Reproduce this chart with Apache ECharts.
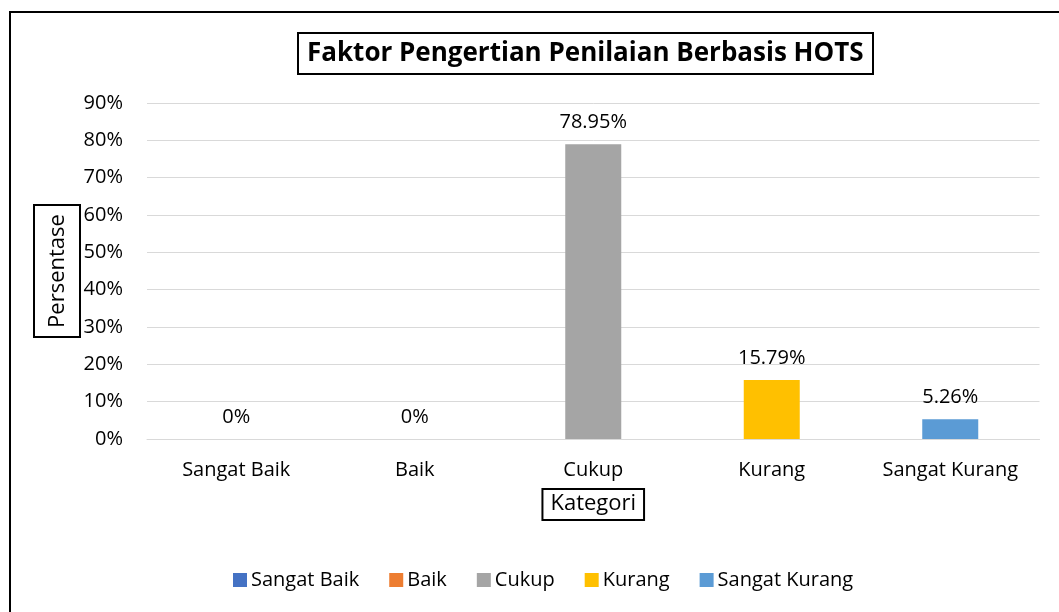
<!DOCTYPE html>
<html>
<head>
<meta charset="utf-8">
<script src="https://cdn.jsdelivr.net/npm/echarts@6/dist/echarts.min.js"></script>
<style>html,body{margin:0;padding:0;background:#fff}#c{width:1059px;height:612px}</style>
</head>
<body>
<div id="c"></div>
<script>
const categories = ['Sangat Baik', 'Baik', 'Cukup', 'Kurang', 'Sangat Kurang'];
const values = [0, 0, 78.95, 15.79, 5.26];
const colors = ['#4472C4', '#ED7D31', '#A5A5A5', '#FFC000', '#5B9BD5'];
const yTicks = { min: 0, max: 90, interval: 10 };
const titleText = 'Faktor Pengertian Penilaian Berbasis HOTS';
const yName = 'Persentase';
const xName = 'Kategori';

const FONT = 'Open Sans';
const FS = 20;
const chart = echarts.init(document.getElementById('c'));
const series = categories.map((name, i) => ({
  name: name,
  type: 'bar',
  stack: 'all',
  barWidth: 56,
  itemStyle: { color: colors[i] },
  data: categories.map((c, j) => j === i ? values[i] : null),
  label: {
    show: true, position: 'top', distance: 12,
    color: '#000', fontFamily: FONT, fontSize: FS,
    formatter: p => p.value + '%'
  }
}));
chart.setOption({
  animation: false,
  graphic: [{
    type: 'rect', shape: { x: 10, y: 12, width: 1200, height: 800 },
    style: { fill: 'none', stroke: '#000', lineWidth: 2 }, silent: true
  }],
  title: {
    text: titleText, left: 298, top: 33,
    padding: [6, 10, 6, 9],
    borderColor: '#000', borderWidth: 2,
    textStyle: { fontFamily: FONT, fontSize: 26, fontWeight: 'bold', color: '#000', lineHeight: 29 }
  },
  legend: {
    data: categories, top: 565, left: 228,
    itemWidth: 14, itemHeight: 14, itemGap: 30,
    icon: 'rect',
    textStyle: { fontFamily: FONT, fontSize: FS, color: '#000', padding: [0, 0, 0, -1] }
  },
  grid: { left: 147, right: 19.5, top: 103, bottom: 173, containLabel: false },
  xAxis: {
    type: 'category', data: categories,
    name: xName, nameLocation: 'middle', nameGap: 50, nameMoveOverlap: false,
    nameTextStyle: {
      fontFamily: FONT, fontSize: 22, color: '#000',
      borderColor: '#000', borderWidth: 2, padding: [4, 8, 5, 8]
    },
    axisLine: { lineStyle: { color: '#D9D9D9' } },
    axisTick: { show: false },
    axisLabel: { fontFamily: FONT, fontSize: FS, color: '#000', margin: 21 }
  },
  yAxis: {
    type: 'value', min: yTicks.min, max: yTicks.max, interval: yTicks.interval,
    name: yName, nameLocation: 'middle', nameRotate: 90, nameGap: 67, nameMoveOverlap: false,
    nameTextStyle: {
      fontFamily: FONT, fontSize: 22, color: '#000',
      borderColor: '#000', borderWidth: 2, padding: [13, 9, 11, 9]
    },
    axisLine: { show: false }, axisTick: { show: false },
    splitLine: { lineStyle: { color: '#D9D9D9', width: 1 } },
    axisLabel: { fontFamily: FONT, fontSize: FS, color: '#000', margin: 24, formatter: '{value}%' }
  },
  series: series
});
</script>
</body>
</html>
